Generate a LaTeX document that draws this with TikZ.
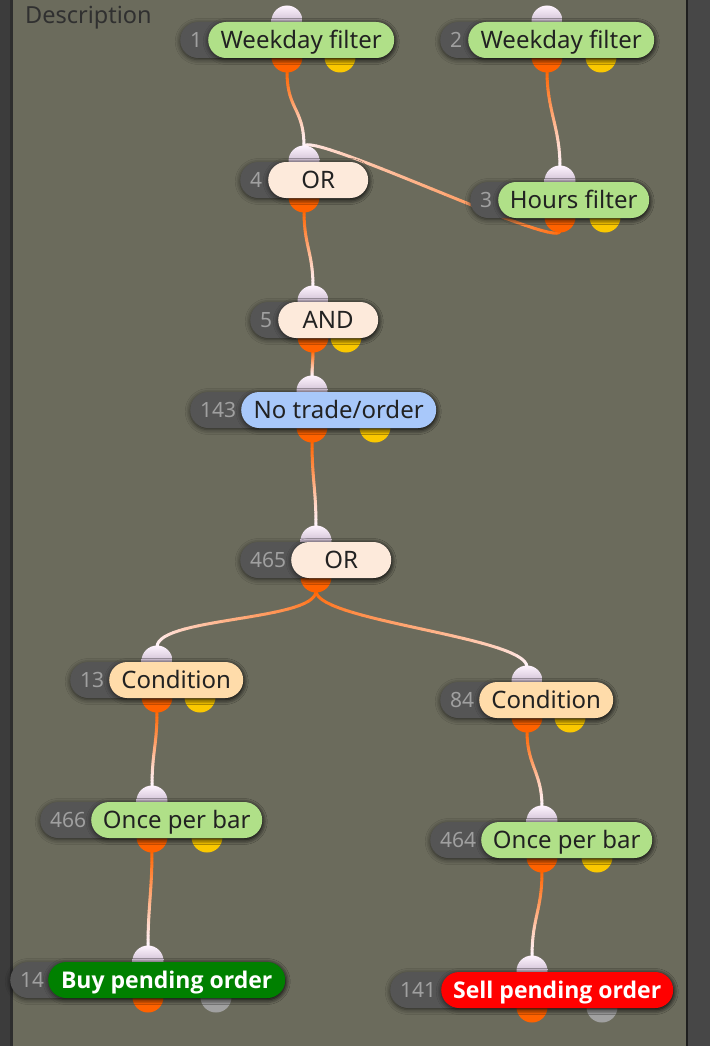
\documentclass[tikz,border=0pt]{standalone}
\usepackage{fontspec}
\setmainfont{Noto Sans}
\newfontfamily\boldfam{Open Sans}
\usetikzlibrary{shadows.blur}
\definecolor{bgc}{RGB}{107,107,92}
\definecolor{stripL}{RGB}{60,60,60}
\definecolor{stripLd}{RGB}{45,45,45}
\definecolor{stripR}{RGB}{71,71,71}
\definecolor{stripRd}{RGB}{30,30,30}
\definecolor{idgray}{RGB}{85,85,85}
\definecolor{idtext}{RGB}{160,160,160}
\definecolor{labtext}{RGB}{34,34,34}
\definecolor{cgreen}{RGB}{176,224,136}
\definecolor{cpeach}{RGB}{253,234,219}
\definecolor{cblue}{RGB}{168,200,250}
\definecolor{ccond}{RGB}{255,220,170}
\definecolor{cbuy}{RGB}{0,128,0}
\definecolor{csell}{RGB}{255,0,0}
\definecolor{inTop}{RGB}{254,244,254}
\definecolor{inMid}{RGB}{210,194,214}
\definecolor{inBot}{RGB}{150,132,155}
\definecolor{outc}{RGB}{255,98,0}
\definecolor{yelc}{RGB}{250,200,0}
\definecolor{grayc}{RGB}{160,160,160}
\definecolor{wireA}{RGB}{255,100,0}
\definecolor{wireB}{RGB}{255,244,250}
\definecolor{desctext}{RGB}{48,48,48}
\tikzset{
  pillshadow/.style={blur shadow={shadow xshift=0pt,shadow yshift=-1.5pt,shadow blur radius=5pt,shadow opacity=65}},
  idpill/.style={rectangle, rounded corners=18pt, fill=idgray, minimum height=36pt, inner xsep=10pt, inner ysep=0pt, align=left, text=idtext, text height=15pt, text depth=0pt, font=\fontsize{21}{24}\selectfont, pillshadow},
  lab/.style={rectangle, rounded corners=18pt, minimum height=36pt, inner xsep=0pt, inner ysep=0pt, text=labtext, text height=17pt, text depth=0pt, font=\fontsize{24}{28}\selectfont, pillshadow},
  boldlab/.style={text=white, text height=16.4pt, font=\boldfam\bfseries\fontsize{23}{28}\selectfont},
  inport/.style={circle, minimum size=31pt, inner sep=0pt, top color=inTop, bottom color=inBot, middle color=inMid},
  outport/.style={circle, minimum size=31pt, inner sep=0pt, fill=outc},
  yelport/.style={circle, minimum size=31pt, inner sep=0pt, fill=yelc},
  grayport/.style={circle, minimum size=31pt, inner sep=0pt, fill=grayc},
  wire/.style={line width=3pt, line cap=round}
}
\newcommand\pill[8]{%
  \pgfmathsetmacro\dw{#5-#3-20}%
  \pgfmathsetmacro\lw{#5-#4}%
  \node[idpill, text width=\dw pt, anchor=west] (#1id) at (#3,#6) {#2};
  \node[lab, #7, minimum width=\lw pt, anchor=west] (#1) at (#4,#6) {#8};
}
% port centres (#1ic, #1oc) and connection points (#1i top of input, #1o bottom of output)
\newcommand\pc[3]{%
  \coordinate (#1ic) at (#2,{#3-19});
  \coordinate (#1oc) at (#2,{#3+17});
  \coordinate (#1i) at (#2,{#3-33});
  \coordinate (#1o) at (#2,{#3+31});
}
\newcommand\ports[1]{%
  \node[inport] (#1in) at (#1ic) {};
  \node[outport] (#1out) at (#1oc) {};
}
\newcommand\extra[4]{%
  \node[#4] (#1x) at (#2,{#3+17}) {};
}
\newcommand\conn[4]{%
  \foreach \i in {1,...,30}{%
    \pgfmathsetmacro\ta{(\i-1)/30}%
    \pgfmathsetmacro\tb{\i/30}%
    \pgfmathtruncatemacro\pcnt{100-100*(\i-0.5)/30}%
    \path (#1) .. controls +#3 and +#4 .. (#2) coordinate[pos=\ta] (qa) coordinate[pos=\tb] (qb);
    \draw[wire, draw=wireA!\pcnt!wireB] (qa) -- (qb);
  }%
}
\begin{document}
\begin{tikzpicture}[x=1pt,y=-1pt]
\useasboundingbox (0,0) rectangle (710,1046);
\fill[bgc] (0,0) rectangle (710,1046);
\fill[stripL] (0,0) rectangle (10,1046);
\fill[stripLd] (10,0) rectangle (13,1046);
\fill[stripRd] (686,0) rectangle (688,1046);
\fill[stripR] (688,0) rectangle (710,1046);
\node[anchor=base west, inner sep=0pt, text=desctext, font=\fontsize{23.5}{26}\selectfont] (desc) at (25,24) {Description};

% port positions
\pc{n1}{287}{40}
\pc{n2}{547}{40}
\pc{n3}{560}{200}
\pc{n4}{304}{180}
\pc{n5}{313}{320}
\pc{n143}{312}{410}
\pc{n465}{316}{560}
\pc{n13}{157}{680}
\pc{n84}{527}{700}
\pc{n466}{152}{820}
\pc{n464}{542}{840}
\pc{n14}{148}{980}
\pc{n141}{532}{990}

% connectors
\conn{n1o}{n4i}{(0,40)}{(0,-40)}
\conn{n2o}{n3i}{(0,40)}{(0,-40)}
\conn{n3o}{n4i}{(0,20)}{(0,-20)}
\conn{n4o}{n5i}{(0,35)}{(0,-35)}
\conn{n5o}{n143i}{(0,10)}{(0,-10)}
\conn{n143o}{n465i}{(0,40)}{(0,-40)}
\conn{n465o}{n13i}{(0,30)}{(0,-30)}
\conn{n465o}{n84i}{(0,30)}{(0,-30)}
\conn{n13o}{n466i}{(0,35)}{(0,-35)}
\conn{n84o}{n464i}{(0,35)}{(0,-35)}
\conn{n466o}{n14i}{(0,40)}{(0,-40)}
\conn{n464o}{n141i}{(0,40)}{(0,-40)}

% ports
\ports{n1}\extra{n1}{340}{40}{yelport}
\ports{n2}\extra{n2}{601}{40}{yelport}
\ports{n3}\extra{n3}{605}{200}{yelport}
\ports{n4}
\ports{n5}\extra{n5}{346}{320}{yelport}
\ports{n143}\extra{n143}{375}{410}{yelport}
\ports{n465}
\ports{n13}\extra{n13}{200}{680}{yelport}
\ports{n84}\extra{n84}{570}{700}{yelport}
\ports{n466}\extra{n466}{207}{820}{yelport}
\ports{n464}\extra{n464}{597}{840}{yelport}
\ports{n14}\extra{n14}{216}{980}{grayport}
\ports{n141}\extra{n141}{602}{990}{grayport}

% nodes
\pill{n1}{1}{180}{208}{394}{40}{fill=cgreen}{Weekday filter}
\pill{n2}{2}{440}{468}{654}{40}{fill=cgreen}{Weekday filter}
\pill{n3}{3}{470}{498}{649}{200}{fill=cgreen}{Hours filter}
\pill{n4}{4}{240}{268}{368}{180}{fill=cpeach}{OR}
\pill{n5}{5}{250}{278}{378}{320}{fill=cpeach}{AND}
\pill{n143}{143}{190}{241}{436}{410}{fill=cblue}{No trade/order}
\pill{n465}{465}{240}{291}{391}{560}{fill=cpeach}{OR}
\pill{n13}{13}{70}{109}{243}{680}{fill=ccond}{Condition}
\pill{n84}{84}{440}{479}{613}{700}{fill=ccond}{Condition}
\pill{n466}{466}{40}{91}{262}{820}{fill=cgreen}{Once per bar}
\pill{n464}{464}{430}{481}{652}{840}{fill=cgreen}{Once per bar}
\pill{n14}{14}{10}{48}{285}{980}{fill=cbuy, boldlab}{Buy pending order}
\pill{n141}{141}{390}{441}{673}{990}{fill=csell, boldlab}{Sell pending order}
\end{tikzpicture}
\end{document}
